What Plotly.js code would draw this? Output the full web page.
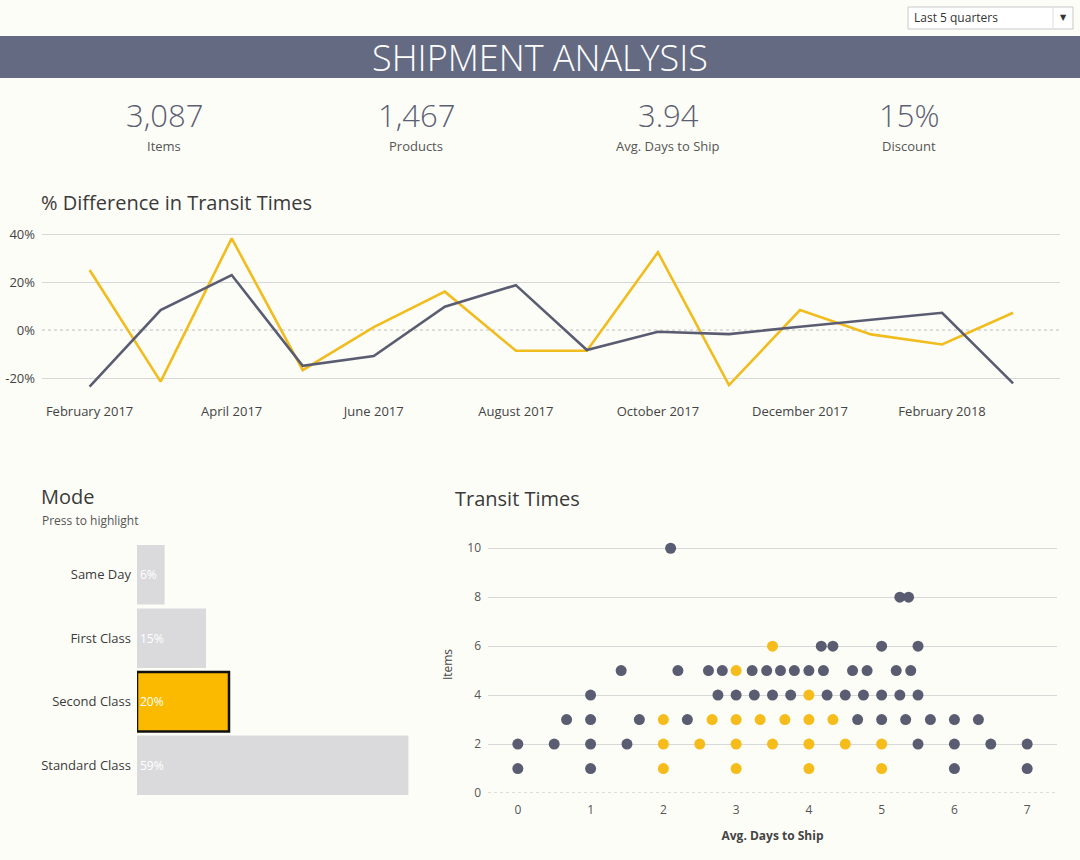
<!DOCTYPE html>
<html>
<head>
<meta charset="utf-8">
<script src="https://cdn.plot.ly/plotly-3.0.1.min.js"></script>
<style>
  html, body { margin: 0; padding: 0; background: #FDFDF8; }
  #chart { width: 1080px; height: 860px; }
</style>
</head>
<body>
<div id="chart"></div>
<script>
// ---------- DATA ----------
const months = ['February 2017','March 2017','April 2017','May 2017','June 2017','July 2017',
  'August 2017','September 2017','October 2017','November 2017','December 2017','January 2018',
  'February 2018','March 2018'];
const monthTicks = ['February 2017','April 2017','June 2017','August 2017','October 2017','December 2017','February 2018'];
const diffHighlighted = [25, -21.5, 38.2, -16.7, 1.2, 16, -8.6, -8.6, 32.4, -22.9, 8.3, -1.8, -6, 7.2];
const diffOthers = [-23.6, 8.3, 22.9, -14.9, -10.8, 9.7, 18.7, -8.3, -0.7, -1.7, 1.4, 4.4, 7.2, -22.2];
const diffTicks = [-20, 0, 20, 40];

const kpiValues = ['3,087', '1,467', '3.94', '15%'];
const kpiLabels = ['Items', 'Products', 'Avg. Days to Ship', 'Discount'];

const modes = ['Same Day', 'First Class', 'Second Class', 'Standard Class'];
const modeShare = [6, 15, 20, 59];
const highlightedMode = 'Second Class';

const othersDays = [0, 1, 6, 7,
  0, 0.5, 1, 1.5, 5.5, 6, 6.5, 7,
  0.67, 1, 1.67, 2.33, 4.67, 5, 5.33, 5.67, 6, 6.33,
  1, 2.75, 3, 3.25, 3.5, 3.75, 4.25, 4.5, 4.75, 5, 5.25, 5.5,
  1.42, 2.2, 2.62, 2.81, 3.22, 3.42, 3.61, 3.8, 4.0, 4.2, 4.6, 4.8, 5.2, 5.4,
  4.17, 4.33, 5.0, 5.5,
  5.25, 5.37,
  2.1];
const othersItems = [1, 1, 1, 1,
  2, 2, 2, 2, 2, 2, 2, 2,
  3, 3, 3, 3, 3, 3, 3, 3, 3, 3,
  4, 4, 4, 4, 4, 4, 4, 4, 4, 4, 4, 4,
  5, 5, 5, 5, 5, 5, 5, 5, 5, 5, 5, 5, 5, 5,
  6, 6, 6, 6,
  8, 8,
  10];
const highlightDays = [2, 3, 4, 5,
  2, 2.5, 3, 3.5, 4, 4.5, 5,
  2, 2.67, 3, 3.33, 3.67, 4, 4.33,
  4, 3, 3.5];
const highlightItems = [1, 1, 1, 1,
  2, 2, 2, 2, 2, 2, 2,
  3, 3, 3, 3, 3, 3, 3,
  4, 5, 6];
const daysTicks = [0, 1, 2, 3, 4, 5, 6, 7];
const itemsTicks = [0, 2, 4, 6, 8, 10];

// ---------- STYLE ----------
const W = 1080, H = 860;
const px = v => v / W;
const py = v => 1 - v / H;
const BG = '#FDFDF8';
const YEL = '#F1BC1E';
const GRAY = '#5A5D71';
const GRID = '#D8D8D8';
const TXT = '#3A3A3A';
const FONT = 'Open Sans, Lato, sans-serif';

const lineRange = [-0.67, 13.66];
const dotRange = [-0.41, 7.41];

const traces = [
  { type: 'scatter', mode: 'lines', x: months, y: diffHighlighted, xaxis: 'x', yaxis: 'y',
    line: { color: YEL, width: 2.6 }, hoverinfo: 'x+y', showlegend: false },
  { type: 'scatter', mode: 'lines', x: months, y: diffOthers, xaxis: 'x', yaxis: 'y',
    line: { color: GRAY, width: 2.6 }, hoverinfo: 'x+y', showlegend: false },
  { type: 'bar', orientation: 'h', x: modeShare, y: modes, xaxis: 'x2', yaxis: 'y2',
    text: modeShare.map(v => v + '%'), textposition: 'inside', insidetextanchor: 'start',
    textfont: { color: '#FFFFFF', size: 12, family: FONT }, constraintext: 'none',
    marker: {
      color: modes.map(m => m === highlightedMode ? '#FBB900' : '#DADADD'),
      line: { color: '#111111', width: modes.map(m => m === highlightedMode ? 2.5 : 0) }
    },
    showlegend: false, hoverinfo: 'y+x' },
  { type: 'scatter', mode: 'markers', x: othersDays, y: othersItems, xaxis: 'x3', yaxis: 'y3',
    marker: { color: GRAY, size: 11, line: { width: 0 } }, showlegend: false },
  { type: 'scatter', mode: 'markers', x: highlightDays, y: highlightItems, xaxis: 'x3', yaxis: 'y3',
    marker: { color: '#F6BC1C', size: 11, line: { width: 0 } }, showlegend: false }
];

const kpiX = [164, 416, 668, 909];
const annotations = [];
kpiValues.forEach((v, i) => {
  annotations.push({ text: v, x: px(kpiX[i]), y: py(115), xref: 'paper', yref: 'paper',
    showarrow: false, xanchor: 'center', yanchor: 'middle',
    font: { family: FONT, size: 31, color: '#5B5F73', weight: 300 } });
  annotations.push({ text: kpiLabels[i], x: px(kpiX[i]), y: py(146), xref: 'paper', yref: 'paper',
    showarrow: false, xanchor: 'center', yanchor: 'middle',
    font: { family: FONT, size: 13, color: '#555555' } });
});
annotations.push(
  { text: '% Difference in Transit Times', x: px(39), y: py(202), xref: 'paper', yref: 'paper',
    showarrow: false, xanchor: 'left', yanchor: 'middle', font: { family: FONT, size: 20, color: TXT } },
  { text: 'Mode', x: px(39), y: py(497), xref: 'paper', yref: 'paper',
    showarrow: false, xanchor: 'left', yanchor: 'middle', font: { family: FONT, size: 20, color: TXT } },
  { text: 'Press to highlight', x: px(40), y: py(520), xref: 'paper', yref: 'paper',
    showarrow: false, xanchor: 'left', yanchor: 'middle', font: { family: FONT, size: 12, color: '#555555' } },
  { text: 'Transit Times', x: px(453), y: py(498), xref: 'paper', yref: 'paper',
    showarrow: false, xanchor: 'left', yanchor: 'middle', font: { family: FONT, size: 20, color: TXT } },
  { text: 'Last 5 quarters', x: px(912), y: py(18), xref: 'paper', yref: 'paper',
    showarrow: false, xanchor: 'left', yanchor: 'middle', font: { family: FONT, size: 12, color: '#333333' } },
  { text: '▼', x: px(1063), y: py(18), xref: 'paper', yref: 'paper',
    showarrow: false, xanchor: 'center', yanchor: 'middle', font: { family: 'DejaVu Sans', size: 8, color: '#333333' } }
);

const shapes = [
  // header band
  { type: 'rect', xref: 'paper', yref: 'paper', x0: 0, x1: 1, y0: py(78), y1: py(36),
    fillcolor: '#646A82', line: { width: 0 }, layer: 'below' },
  // dropdown
  { type: 'rect', xref: 'paper', yref: 'paper', x0: px(908), x1: px(1073), y0: py(29), y1: py(7),
    fillcolor: '#FFFFFF', line: { color: '#C9C9C9', width: 1 }, layer: 'below' },
  { type: 'line', xref: 'paper', yref: 'paper', x0: px(1053), x1: px(1053), y0: py(29), y1: py(7),
    line: { color: '#DDDDDD', width: 1 }, layer: 'below' },
  // dotted zero lines (drawn between grid and data)
  { type: 'line', xref: 'x', yref: 'y', x0: lineRange[0], x1: lineRange[1], y0: 0, y1: 0,
    line: { color: BG, width: 2 }, layer: 'between' },
  { type: 'line', xref: 'x', yref: 'y', x0: lineRange[0], x1: lineRange[1], y0: 0, y1: 0,
    line: { color: '#BDBDBD', width: 1, dash: 'dot' }, layer: 'between' },
  { type: 'line', xref: 'x3', yref: 'y3', x0: dotRange[0], x1: dotRange[1], y0: 0, y1: 0,
    line: { color: BG, width: 2 }, layer: 'between' },
  { type: 'line', xref: 'x3', yref: 'y3', x0: dotRange[0], x1: dotRange[1], y0: 0, y1: 0,
    line: { color: '#BDBDBD', width: 1, dash: 'dot' }, layer: 'between' }
];

const layout = {
  width: W, height: H,
  margin: { l: 0, r: 0, t: 0, b: 0, pad: 0 },
  paper_bgcolor: BG, plot_bgcolor: 'rgba(0,0,0,0)',
  font: { family: FONT, color: TXT },
  title: { text: 'SHIPMENT ANALYSIS', x: 0.5, xanchor: 'center', xref: 'paper',
    y: py(58), yanchor: 'middle', yref: 'paper',
    font: { family: FONT, size: 36, color: '#FFFFFF', weight: 300 } },
  showlegend: false,
  xaxis: { domain: [px(42), px(1060)], anchor: 'y', type: 'category',
    range: lineRange, tickmode: 'array', tickvals: monthTicks, ticktext: monthTicks,
    showgrid: false, showline: false, zeroline: false, ticks: '',
    tickfont: { size: 13, color: '#444444', family: FONT }, ticklabelstandoff: 10, fixedrange: true },
  yaxis: { domain: [py(392), py(228)], anchor: 'x', range: [-25.8, 42.5],
    tickmode: 'array', tickvals: diffTicks, ticktext: diffTicks.map(v => v + '%'),
    showgrid: true, gridcolor: GRID, gridwidth: 1, zeroline: false, showline: false, ticks: '',
    tickfont: { size: 13, color: '#444444', family: FONT }, ticklabelstandoff: 6, fixedrange: true },
  xaxis2: { domain: [px(137), px(413)], anchor: 'y2', range: [0, 60], visible: false, fixedrange: true },
  yaxis2: { domain: [py(797), py(543)], anchor: 'x2', type: 'category', autorange: 'reversed',
    showgrid: false, zeroline: false, showline: false, ticks: '',
    tickfont: { size: 13, color: '#3A3A3A', family: FONT }, ticklabelstandoff: 5, fixedrange: true },
  bargap: 0.06,
  xaxis3: { domain: [px(488), px(1057)], anchor: 'y3', range: dotRange,
    tickmode: 'array', tickvals: daysTicks, showgrid: false, zeroline: false, showline: false, ticks: '',
    tickfont: { size: 12, color: '#555555', family: FONT }, ticklabelstandoff: 8,
    title: { text: '<b>Avg. Days to Ship</b>', standoff: 14, font: { size: 12, color: '#444444', family: FONT } },
    fixedrange: true },
  yaxis3: { domain: [py(793), py(536)], anchor: 'x3', range: [0, 10.5],
    tickmode: 'array', tickvals: itemsTicks, showgrid: true, gridcolor: GRID, gridwidth: 1,
    zeroline: false, showline: false, ticks: '',
    tickfont: { size: 12, color: '#555555', family: FONT }, ticklabelstandoff: 6,
    title: { text: 'Items', standoff: 12, font: { size: 12, color: '#444444', family: FONT } },
    fixedrange: true },
  shapes: shapes,
  annotations: annotations
};

Plotly.newPlot('chart', traces, layout, { displayModeBar: false });
</script>
</body>
</html>
